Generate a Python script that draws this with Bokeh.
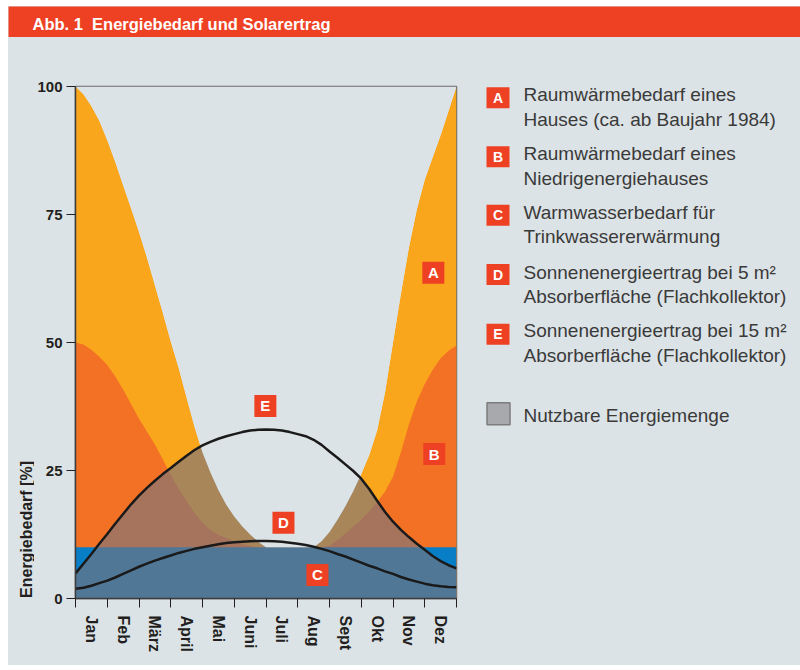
import numpy as np
from bokeh.plotting import figure
from bokeh.layouts import column, row
from bokeh.models import Range1d, FixedTicker, Spacer
from bokeh.core.properties import value
from bokeh.embed import file_html
from bokeh.resources import INLINE

# ---------------- data ----------------
months = ["Jan", "Feb", "März", "April", "Mai", "Juni", "Juli", "Aug", "Sept", "Okt", "Nov", "Dez"]
t = [i / 4 for i in range(49)]  # month position, 0 = start of January, 12 = end of December

# A: Raumwärmebedarf Haus ab 1984 (stacked on C)
house_1984 = [100, 98.5, 96.2, 93.3, 89.5, 85.3, 80.7, 76.2, 71.6, 66.6, 61.2, 55.8,
              50.2, 45, 39.2, 33.5, 28.5, 24.6, 21.2, 18.3, 16, 14.1, 12.5, 11.1,
              10, 10, 10, 10, 10, 10, 10, 11.2, 13, 15.4, 18, 21,
              24.3, 28, 32.8, 40.3, 50, 59.5, 68.5, 76, 81.8, 86.2, 90.5, 95.2,
              100]
# B: Raumwärmebedarf Niedrigenergiehaus (stacked on C)
low_energy = [50, 49.6, 48.6, 47.2, 45.6, 43.4, 40.8, 38.0, 35.1, 32.6, 30.1, 27.2,
              24.1, 21.4, 19.0, 16.7, 14.8, 13.4, 12.4, 11.8, 11.2, 10.7, 10.3, 10,
              10, 10, 10, 10, 10, 10, 10, 10, 10.3, 11.4, 12.7, 14.0,
              15.4, 17.0, 18.8, 20.9, 23.8, 28.6, 34.0, 38.5, 41.9, 44.7, 46.9, 48.4,
              49.4]
# C: Warmwasserbedarf
hot_water = [10] * 49
# D: Sonnenenergieertrag 5 m²
solar_5 = [1.9, 2.1, 2.5, 3.0, 3.5, 4.1, 4.8, 5.5, 6.2, 6.8, 7.4, 7.9,
           8.4, 8.9, 9.3, 9.7, 10.0, 10.3, 10.6, 10.85, 11.0, 11.1, 11.2, 11.25,
           11.25, 11.2, 11.1, 10.9, 10.7, 10.45, 10.1, 9.7, 9.25, 8.7, 8.2, 7.6,
           7.0, 6.4, 5.9, 5.3, 4.8, 4.2, 3.7, 3.3, 2.9, 2.6, 2.4, 2.25,
           2.2]
# E: Sonnenenergieertrag 15 m²
solar_15 = [4.9, 6.8, 8.7, 10.7, 12.6, 14.6, 16.5, 18.4, 20.1, 21.6, 23.0, 24.3,
            25.5, 26.7, 27.9, 29.0, 29.9, 30.6, 31.2, 31.7, 32.1, 32.5, 32.8, 32.95,
            33, 32.95, 32.8, 32.5, 32.1, 31.7, 31.0, 30.0, 28.7, 27.5, 26.2, 24.9,
            23.4, 21.4, 19.1, 16.9, 15.0, 13.4, 12.0, 10.7, 9.5, 8.3, 7.3, 6.5,
            5.9]
y_ticks = [0, 25, 50, 75, 100]

marker_letters = ["A", "B", "C", "D", "E"]
marker_x = [11.27, 11.3, 7.62, 6.55, 5.98]
marker_y = [63.6, 28.2, 4.6, 14.8, 37.6]

legend_lines = [
    ("Raumwärmebedarf eines", "Hauses (ca. ab Baujahr 1984)"),
    ("Raumwärmebedarf eines", "Niedrigenergiehauses"),
    ("Warmwasserbedarf für", "Trinkwassererwärmung"),
    ("Sonnenenergieertrag bei 5 m²", "Absorberfläche (Flachkollektor)"),
    ("Sonnenenergieertrag bei 15 m²", "Absorberfläche (Flachkollektor)"),
]
usable_label = "Nutzbare Energiemenge"
title_text = "Abb. 1\u00a0 Energiebedarf und Solarertrag"
y_label = "Energiebedarf [%]"

# ---------------- styles / layout (page pixel coordinates) ----------------
BG = "#dce3e6"
RED = "#ee4123"
YELLOW = "#f9a61c"
ORANGE = "#f37124"
BLUE = "#087ec6"
GRAY = "#7a737c"
FONT = "Liberation Sans"
DARK = "#231f20"
LEGTXT = "#3a3a3a"

TOP_B, FRAME_H, BOT_B = 49, 512, 67       # shared vertical frame geometry
FRAME_TOP_PAGE = 86
FRAME_BOT_PAGE = FRAME_TOP_PAGE + FRAME_H


def side_fig(x0, w):
    """Figure whose frame spans the full width and the shared vertical frame; data = page pixels."""
    f = figure(frame_width=w, frame_height=FRAME_H,
               min_border_left=0, min_border_right=0,
               min_border_top=TOP_B, min_border_bottom=BOT_B,
               x_range=Range1d(x0, x0 + w),
               y_range=Range1d(FRAME_BOT_PAGE, FRAME_TOP_PAGE),
               x_axis_location=None, y_axis_location=None,
               toolbar_location=None, output_backend="svg",
               background_fill_color=BG, border_fill_color=BG,
               outline_line_color=None)
    f.xgrid.visible = False
    f.ygrid.visible = False
    return f


# title bar (page x 8..800, y 6..37)
title_fig = figure(frame_width=792, frame_height=31, min_border=0,
                   x_range=Range1d(8, 800), y_range=Range1d(37, 6),
                   x_axis_location=None, y_axis_location=None,
                   toolbar_location=None, output_backend="svg",
                   background_fill_color=RED, border_fill_color=RED,
                   outline_line_color=None)
title_fig.xgrid.visible = False
title_fig.ygrid.visible = False
title_fig.text(x=[32], y=[23.4], text=[title_text], text_color="white",
               text_font=value(FONT), text_font_style="bold", text_font_size="16.5px",
               text_baseline="middle", text_align="left")

# y label strip (page x 8..34)
ylab = side_fig(8, 26)
ylab.text(x=[25.5], y=[529], text=[y_label], angle=np.pi / 2, text_color=DARK,
          text_font=value(FONT), text_font_style="bold", text_font_size="16px",
          text_align="center", text_baseline="middle")

# main chart (page x 34..460, frame 75..456)
p = figure(frame_width=381, frame_height=FRAME_H, x_range=Range1d(0, 12), y_range=Range1d(0, 100),
           min_border_left=41, min_border_right=4, min_border_top=TOP_B, min_border_bottom=BOT_B,
           toolbar_location=None, output_backend="svg",
           background_fill_color=BG, border_fill_color=BG,
           outline_line_color="#6b6b6b", outline_line_width=1.5)
p.xgrid.visible = False
p.ygrid.visible = False

p.varea(x=t, y1=0, y2=house_1984, fill_color=YELLOW)
p.varea(x=t, y1=0, y2=low_energy, fill_color=ORANGE)
p.varea(x=t, y1=0, y2=hot_water, fill_color=BLUE)
p.varea(x=t, y1=0, y2=solar_15, fill_color=GRAY, fill_alpha=0.64)
p.varea(x=t, y1=house_1984, y2=100, fill_color=BG)
p.line(t, solar_5, line_color="#1a1a1a", line_width=2.5)
p.line(t, solar_15, line_color="#1a1a1a", line_width=2.5)

p.rect(x=marker_x, y=marker_y, width=22, height=22, width_units="screen", height_units="screen",
       fill_color=RED, line_color=None)
p.text(x=marker_x, y=marker_y, text=marker_letters, text_color="white",
       text_font=value(FONT), text_font_style="bold", text_font_size="15px",
       text_align="center", text_baseline="middle")

xa = p.xaxis[0]
xa.ticker = FixedTicker(ticks=[i + 0.5 for i in range(12)], minor_ticks=list(range(13)))
xa.major_label_overrides = {i + 0.5: m for i, m in enumerate(months)}
xa.major_label_orientation = "vertical"
xa.major_tick_out = 0
xa.major_tick_in = 0
xa.minor_tick_out = 9
xa.minor_tick_in = 0
xa.minor_tick_line_color = DARK
xa.major_label_standoff = 8
xa.major_label_text_font = FONT
xa.major_label_text_font_style = "bold"
xa.major_label_text_font_size = "16px"
xa.major_label_text_color = DARK
xa.axis_line_color = "#3d3d3d"
xa.axis_line_width = 1.5

ya = p.yaxis[0]
ya.ticker = FixedTicker(ticks=y_ticks, minor_ticks=[])
ya.major_tick_out = 9
ya.major_tick_in = 0
ya.major_tick_line_color = DARK
ya.minor_tick_out = 0
ya.minor_tick_in = 0
ya.major_label_standoff = 4
ya.major_label_text_font = FONT
ya.major_label_text_font_style = "bold"
ya.major_label_text_font_size = "15px"
ya.major_label_text_color = DARK
ya.axis_line_color = "#3d3d3d"
ya.axis_line_width = 1.5

# legend panel (page x 460..800)
leg = side_fig(460, 340)
box_y = [97.3, 156.3, 214.7, 274.0, 333.8]
mid_y = [94.1, 153.4, 211.7, 271.7, 330.1]   # vertical middle of first text line
for i, (l1, l2) in enumerate(legend_lines):
    leg.rect(x=[497.5], y=[box_y[i]], width=23, height=21, fill_color=RED, line_color=None)
    leg.text(x=[497.5], y=[box_y[i]], text=[marker_letters[i]], text_color="white",
             text_font=value(FONT), text_font_style="bold", text_font_size="14px",
             text_align="center", text_baseline="middle")
    leg.text(x=[523, 523], y=[mid_y[i], mid_y[i] + 24.7], text=[l1, l2], text_color=LEGTXT,
             text_font=value(FONT), text_font_size="19px",
             text_align="left", text_baseline="middle")
leg.rect(x=[498], y=[413.3], width=23, height=22, fill_color="#a8a9ac",
         line_color="#7d7d7d", line_width=1.5)
leg.text(x=[523], y=[415.1], text=[usable_label], text_color=LEGTXT,
         text_font=value(FONT), text_font_size="19px",
         text_align="left", text_baseline="middle")

chart_row = row(ylab, p, leg, spacing=0, styles={"background-color": BG})
content = column(title_fig, chart_row, spacing=0, styles={"background-color": BG})
layout = column(Spacer(height=6), row(Spacer(width=8), content, spacing=0), spacing=0)
open("out.html", "w").write(file_html(layout, INLINE))
